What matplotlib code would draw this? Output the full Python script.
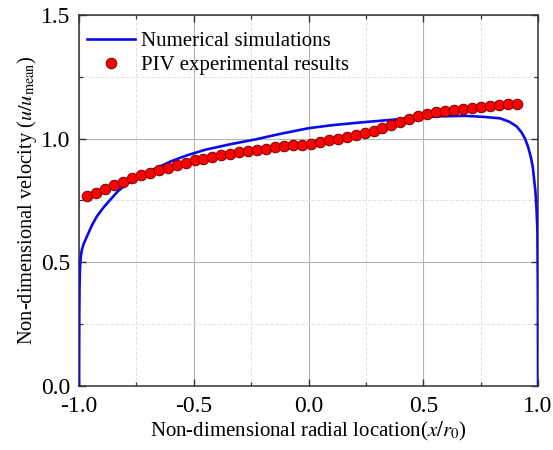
import numpy as np
import matplotlib
matplotlib.use("Agg")
import matplotlib.pyplot as plt
from matplotlib.ticker import MultipleLocator, FormatStrFormatter

plt.rcParams["font.family"] = ["Liberation Serif", "DejaVu Serif"]
plt.rcParams["mathtext.fontset"] = "stix"
plt.rcParams["axes.unicode_minus"] = True

# numerical simulation profile
sim_x = [-1.0, -0.999, -0.998, -0.996, -0.993, -0.988, -0.980, -0.966, -0.945, -0.923,
         -0.895, -0.865, -0.830, -0.792, -0.740, -0.677, -0.600, -0.531, -0.450, -0.342,
         -0.230, -0.124, 0.000, 0.100, 0.224, 0.350, 0.470, 0.573, 0.680,
         0.760, 0.834, 0.875, 0.907, 0.928, 0.943, 0.957, 0.968, 0.977, 0.983,
         0.988, 0.991, 0.994, 0.997, 0.999, 1.000]
sim_u = [0.0, 0.30, 0.40, 0.48, 0.52, 0.55, 0.575, 0.604, 0.648, 0.685,
         0.720, 0.752, 0.788, 0.818, 0.848, 0.875, 0.908, 0.932, 0.955, 0.977,
         0.997, 1.019, 1.042, 1.054, 1.065, 1.075, 1.084, 1.090, 1.092,
         1.088, 1.082, 1.068, 1.049, 1.025, 1.000, 0.965, 0.927, 0.885, 0.833,
         0.790, 0.752, 0.700, 0.630, 0.40, 0.0]

# PIV measurements
piv_x = [-0.965, -0.926, -0.887, -0.848, -0.809, -0.770, -0.731, -0.692, -0.653, -0.614,
         -0.575, -0.536, -0.497, -0.458, -0.419, -0.380, -0.341, -0.302, -0.263, -0.224,
         -0.185, -0.146, -0.107, -0.068, -0.029, 0.010, 0.049, 0.088, 0.127, 0.166,
         0.205, 0.244, 0.283, 0.322, 0.361, 0.400, 0.439, 0.478, 0.517, 0.556,
         0.595, 0.634, 0.673, 0.712, 0.751, 0.790, 0.829, 0.868, 0.907]
piv_u = [0.768, 0.782, 0.797, 0.812, 0.826, 0.839, 0.851, 0.862, 0.872, 0.882,
         0.892, 0.900, 0.912, 0.919, 0.926, 0.932, 0.938, 0.944, 0.949, 0.954,
         0.960, 0.965, 0.969, 0.973, 0.976, 0.980, 0.986, 0.993, 0.998, 1.005,
         1.013, 1.021, 1.031, 1.042, 1.055, 1.068, 1.080, 1.092, 1.100, 1.106,
         1.111, 1.116, 1.121, 1.125, 1.129, 1.132, 1.135, 1.138, 1.140]

fig = plt.figure(figsize=(5.53, 4.5), dpi=100)
ax = fig.add_axes([0.143, 0.142, 0.830, 0.825])

ax.plot(sim_x, sim_u, color="#0a0aee", lw=1.9, label="Numerical simulations", zorder=3)
ax.plot(piv_x, piv_u, "o", ms=7.6, mfc="#ff0000", mec="#7a0000", mew=0.7,
        label="PIV experimental results", zorder=4)

ax.set_xlim(-1.0, 1.0)
ax.set_ylim(0.0, 1.5)
ax.xaxis.set_major_locator(MultipleLocator(0.5))
ax.xaxis.set_minor_locator(MultipleLocator(0.25))
ax.yaxis.set_major_locator(MultipleLocator(0.5))
ax.yaxis.set_minor_locator(MultipleLocator(0.25))
ax.xaxis.set_major_formatter(FormatStrFormatter("%.1f"))
ax.yaxis.set_major_formatter(FormatStrFormatter("%.1f"))

ax.grid(which="major", color="#b4b4b4", lw=0.8, ls="-")
ax.grid(which="minor", color="#e2e2e2", lw=0.7, ls="--")
ax.set_axisbelow(True)

ax.tick_params(which="both", direction="in", top=True, right=True, color="#333333")
ax.tick_params(which="major", length=5, width=1.0, labelsize=17)
ax.tick_params(axis="x", which="major", pad=7)
ax.tick_params(axis="y", which="major", pad=6)
ax.tick_params(which="minor", length=3, width=0.9)
for s in ax.spines.values():
    s.set_color("#333333")
    s.set_linewidth(1.1)

ax.set_xlabel("Non-dimensional radial location($x/r_0$)", fontsize=15, labelpad=2)
ax.set_ylabel(r"Non-dimensional velocity ($u/u_{\mathrm{mean}}$)", fontsize=14.7, labelpad=2)

ax.legend(loc="upper left", frameon=False, fontsize=15, handlelength=2.3,
          handletextpad=0.25, borderaxespad=0.0, labelspacing=0.2,
          bbox_to_anchor=(0.0, 0.977))

fig.savefig("out.png", dpi=100)
